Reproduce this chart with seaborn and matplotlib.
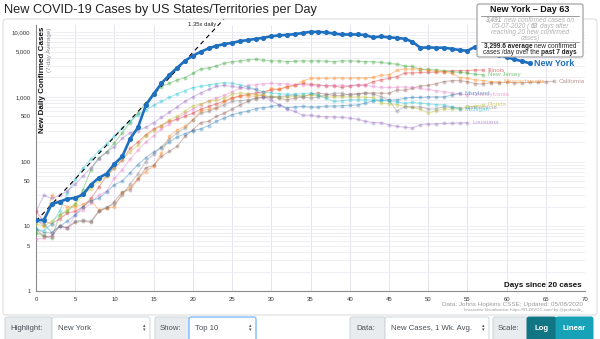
import numpy as np
import pandas as pd
import matplotlib
matplotlib.use("Agg")
import matplotlib.pyplot as plt
import seaborn as sns
from matplotlib.patches import FancyBboxPatch
from matplotlib.ticker import FixedLocator, FuncFormatter, LogLocator, NullFormatter, MultipleLocator

# 7-day average of new confirmed cases, indexed by days since the 20th case
new_york = [12.4, 12.5, 22, 24, 26.5, 27.5, 31, 44, 56, 65,
            92, 120, 225, 337, 740, 1110, 1620, 2180, 2820, 3610,
            4320, 4970, 5610, 6150, 6540, 6840, 7270, 7530, 7880, 8170,
            8670, 8890, 9080, 9310, 9700, 10100, 10100, 9890, 9550, 9200,
            9200, 9200, 8990, 8300, 8600, 8300, 8150, 7900, 7100, 5750,
            5800, 5750, 5750, 5530, 5290, 5160, 5940, 5500, 5000, 4500,
            4080, 3800, 3550, 3299.6]
illinois = [17, 12, 11, 13, 16, 17, 20, 27, 40, 60,
            80, 105, 160, 200, 260, 320, 360, 420, 450, 500,
            560, 640, 710, 780, 860, 960, 1030, 1090, 1150, 1200,
            1280, 1300, 1440, 1500, 1620, 1560, 1530, 1480, 1480, 1400,
            1480, 1530, 1530, 1720, 1830, 1940, 2060, 2330, 2350, 2380,
            2400, 2400, 2450, 2550, 2550, 2550, 2600, 2600]
new_jersey = [8, 7, 6.5, 15, 17, 22, 37, 75, 115, 140,
              195, 280, 400, 565, 810, 1150, 1440, 1620, 1830, 1980,
              2310, 2700, 2800, 3000, 3300, 3500, 3600, 3740, 3800, 3700,
              3600, 3600, 3500, 3550, 3600, 3600, 3600, 3550, 3500, 3600,
              3600, 3550, 3500, 3500, 3400, 3300, 3200, 3000, 2950, 2680,
              2650, 2620, 2550, 2450, 2400, 2320, 2230, 2200]
massachusetts = [13, 10, 30, 23, 20, 20, 22, 25, 18, 19,
                 20, 33, 40, 55, 70, 85, 136, 245, 310, 350,
                 443, 600, 640, 670, 850, 950, 1040, 1040, 1020, 1080,
                 1360, 1300, 1440, 1500, 1750, 1940, 1940, 1940, 1950, 1950,
                 1950, 1950, 1950, 2000, 2180, 2180, 2570, 2700, 2700, 2700,
                 2570, 2500, 2450, 2300, 1990, 1940, 1830, 1790, 1720, 1720]
california = [9, 7, 7, 10, 9.5, 11.5, 12, 11.5, 17, 19,
              24, 34, 37, 53, 80, 87, 120, 144, 172, 245,
              310, 400, 418, 500, 560, 650, 750, 850, 955, 1000,
              1000, 950, 900, 950, 1000, 1100, 1150, 1100, 1050, 1050,
              1100, 1120, 1150, 1150, 1140, 1140, 1270, 1270, 1350, 1470,
              1500, 1600, 1720, 1780, 1780, 1720, 1600, 1590, 1650, 1650,
              1680, 1650, 1650, 1680, 1680, 1720, 1740]
pennsylvania = [6.3, 6.5, 7, 10, 9.5, 15, 18, 23, 30, 35,
                55, 75, 110, 150, 200, 250, 320, 380, 470, 560,
                650, 760, 860, 960, 1050, 1200, 1350, 1500, 1550, 1600,
                1620, 1600, 1580, 1550, 1550, 1500, 1480, 1500, 1520, 1500,
                1480, 1500, 1500, 1450, 1400, 1400, 1400, 1420, 1400, 1350,
                1300, 1250, 1200, 1150, 1100, 1080]
maryland = [12, 11, 8, 10, 12, 15, 20, 25, 27, 34,
            44, 50, 67, 90, 115, 140, 165, 200, 240, 270,
            300, 320, 360, 420, 470, 530, 570, 600, 660, 680,
            710, 753, 680, 700, 710, 700, 700, 720, 720, 730,
            740, 750, 800, 870, 880, 900, 900, 950, 980, 980,
            1000, 1000, 1000, 1060, 1130]
connecticut = [9, 8, 8, 10, 9.5, 12, 12.5, 12, 17, 20,
               22, 30, 45, 65, 100, 130, 170, 220, 280, 330,
               440, 560, 595, 670, 753, 850, 870, 900, 940, 980,
               1000, 1010, 1040, 1070, 1000, 955, 1000, 1080, 1140, 1140,
               1070, 1100, 1140, 1100, 1010, 900, 600, 705, 700, 700,
               650, 650, 705, 690, 680]
michigan = [9, 8.5, 11, 17, 33, 53, 80, 110, 145, 190,
            250, 330, 420, 530, 630, 740, 850, 980, 1110, 1250,
            1390, 1460, 1530, 1600, 1660, 1620, 1530, 1440, 1300, 1200,
            1150, 1120, 1100, 1100, 1120, 1150, 1050, 950, 850, 870,
            900, 900, 900, 900, 900, 850, 830, 800, 820, 800,
            780, 760, 753, 700, 645]
florida = [11, 10, 12, 15, 18, 22, 30, 38, 50, 60,
           80, 110, 140, 180, 250, 300, 360, 440, 500, 600,
           725, 780, 850, 880, 950, 1100, 1150, 1120, 1080, 1050,
           1020, 1000, 1000, 1020, 1050, 1050, 1050, 1000, 1000, 1000,
           1000, 1000, 990, 980, 800, 780, 760, 720, 690, 640,
           570, 600, 650, 650, 650, 700, 720, 750]
louisiana = [17, 30, 27, 30, 35, 45, 60, 80, 110, 140,
             170, 230, 280, 300, 340, 400, 480, 580, 700, 850,
             1000, 1150, 1300, 1450, 1500, 1450, 1400, 1350, 1300, 1010,
             880, 753, 650, 595, 520, 520, 500, 490, 490, 480,
             470, 450, 420, 400, 400, 370, 350, 340, 330, 370,
             380, 380, 390, 390, 395, 400]

other_states = {
    "Illinois": illinois, "New Jersey": new_jersey, "Massachusetts": massachusetts,
    "California": california, "Pennsylvania": pennsylvania, "Maryland": maryland,
    "Florida": florida, "Connecticut": connecticut, "Michigan": michigan,
    "Louisiana": louisiana,
}
state_colors = {
    "Maryland": "#1f77b4", "Massachusetts": "#ff7f0e", "New Jersey": "#2ca02c",
    "Illinois": "#d62728", "Louisiana": "#9467bd", "California": "#8c564b",
    "Pennsylvania": "#e377c2", "Connecticut": "#7f7f7f", "Florida": "#bcbd22",
    "Michigan": "#17becf",
}
highlight_name = "New York"
highlight_color = "#1f6fbf"
highlight_day = 63
highlight_daily = 3491

y_ticks = [1, 5, 10, 50, 100, 500, 1000, 5000, 10000]

guide_start, guide_rate = 12.0, 1.35

sns.set_theme(style="white")
plt.rcParams['font.family'] = ['Liberation Sans', 'DejaVu Sans']

W, H = 600, 339
fig = plt.figure(figsize=(6.0, 3.39), dpi=100)
fig.patch.set_facecolor("white")

ax = fig.add_axes([36 / W, 1 - 291 / H, 549 / W, (291 - 25) / H])
ax.set_facecolor("white")
ax.set_yscale("log")
ax.set_xlim(0, 70)
ax.set_ylim(1, 12900)

# grid and ticks
ax.xaxis.set_major_locator(MultipleLocator(5))
ax.yaxis.set_major_locator(FixedLocator(y_ticks))
ax.yaxis.set_minor_locator(LogLocator(base=10, subs=np.arange(1, 10)))
ax.yaxis.set_major_formatter(FuncFormatter(lambda v, p: f"{int(v):,}"))
ax.yaxis.set_minor_formatter(NullFormatter())
ax.grid(True, axis="x", which="major", color="#e7e3f0", lw=0.7)
ax.grid(True, axis="y", which="both", color="#ecebf4", lw=0.6)
ax.set_axisbelow(True)
for s in ("top", "right"):
    ax.spines[s].set_visible(False)
for s in ("left", "bottom"):
    ax.spines[s].set_color("#8a8a8a")
    ax.spines[s].set_linewidth(0.8)
ax.tick_params(axis="both", which="major", labelsize=4.3, colors="#8a8a8a",
               labelcolor="#333333", length=2.5, width=0.6, pad=1.5)
ax.tick_params(axis="y", which="minor", length=2.0, width=0.4, colors="#9a9a9a")

# other states
label_offsets = {"Pennsylvania": 0.0, "Maryland": 0.0}
for name, vals in other_states.items():
    c = state_colors[name]
    d = pd.DataFrame({"day": np.arange(len(vals)), "cases": vals})
    sns.lineplot(data=d, x="day", y="cases", ax=ax, color=c, lw=0.8, alpha=0.36,
                 marker="o", markersize=2.8, markeredgewidth=0, errorbar=None, zorder=3)
    ax.text(len(vals) - 1 + 0.6, vals[-1], name, color=c, alpha=0.6, fontsize=4.5,
            va="center", ha="left", zorder=4)

# growth guide
g_end = np.log(16000 / guide_start) / np.log(guide_rate)
ax.plot([0, g_end], [guide_start, guide_start * guide_rate ** g_end], ls=(0, (4, 3.5)),
        color="black", lw=0.8, clip_on=False, zorder=5)

# highlighted state
d = pd.DataFrame({"day": np.arange(len(new_york)), "cases": new_york})
sns.lineplot(data=d, x="day", y="cases", ax=ax, color=highlight_color, lw=1.9,
             marker="o", markersize=3.7, markeredgewidth=0, errorbar=None, zorder=6)
ax.text(len(new_york) - 1 + 0.5, new_york[-1], highlight_name, color=highlight_color,
        fontsize=6.5, fontweight="bold", va="center", ha="left", zorder=7)
ax.set_xlabel("")
ax.set_ylabel("")

# overlay in pixel coordinates for page furniture
ov = fig.add_axes([0, 0, 1, 1])
ov.set_xlim(0, W)
ov.set_ylim(H, 0)
ov.axis("off")
renderer = fig.canvas.get_renderer()

ov.add_patch(FancyBboxPatch((3, 19), 594, 296, boxstyle="round,pad=0,rounding_size=3",
                            fc="none", ec="#dedede", lw=0.8))
ov.text(4, 10, "New COVID-19 Cases by US States/Territories per Day", fontsize=9.2,
        color="#222222", va="center", ha="left")

ov.text(42, 27, "New Daily Confirmed Cases", rotation=90, fontsize=5.8, fontweight="bold",
        color="#111111", ha="center", va="top")
ov.text(50, 27, "(7-day Average)", rotation=90, fontsize=4.5, color="#888888",
        ha="center", va="top")
ov.text(202, 24.5, f"{guide_rate}x daily", fontsize=4.2, color="#222222",
        ha="center", va="center")
ov.text(582, 285.5, "Days since 20 cases", fontsize=5.8, fontweight="bold",
        color="#111111", ha="right", va="center")
ov.text(583, 304.5, "Data: Johns Hopkins CSSE; Updated: 05/08/2020", fontsize=4.6,
        color="#9a9a9a", ha="right", va="center")
ov.text(583, 310.5, "Interactive Visualization: https://91-DIVOC.com/ by @profwade_",
        fontsize=3.1, color="#9a9a9a", ha="right", va="center")


def rich_line(xc, y, pieces, size, color, style="normal"):
    """Draw text pieces (text, bold) side by side, centred on xc."""
    def width(s, weight):
        t = ov.text(0, 0, s, fontsize=size, fontweight=weight, style=style)
        w = t.get_window_extent(renderer=renderer).width
        t.remove()
        return w
    space = width("x x", "normal") - width("xx", "normal")
    items = []
    for s, bold in pieces:
        wt = "bold" if bold else "normal"
        items.append((s, wt, width(s, wt)))
    total = sum(w for _, _, w in items) + space * (len(items) - 1)
    x = xc - total / 2
    for s, wt, w in items:
        ov.text(x, y, s, fontsize=size, fontweight=wt, style=style, color=color,
                ha="left", va="center", zorder=12)
        x += w + space


# tooltip
ov.add_patch(FancyBboxPatch((477, 4), 106, 53, boxstyle="round,pad=0,rounding_size=2",
                            fc="white", ec="#9a9a9a", lw=0.8, zorder=10))
ov.text(530, 10, f"{highlight_name} \u2013 Day {highlight_day}", fontsize=6.5,
        fontweight="bold", color="#111111", ha="center", va="center", zorder=11)
ov.plot([481, 579], [15.5, 15.5], color="#8a8a8a", lw=0.6, zorder=11)
rich_line(530, 20.0, [(f"{highlight_daily:,}", True), ("new confirmed cases on", False)],
          4.7, "#b0b0b0", "italic")
rich_line(530, 26.2, [("05-07-2020 (", False), (f"{highlight_day}", True),
                      ("days after", False)], 4.7, "#b0b0b0", "italic")
rich_line(530, 32.4, [("reaching 20 new confirmed", False)], 4.7, "#b0b0b0", "italic")
rich_line(530, 38.2, [("cases)", False)], 4.7, "#b0b0b0", "italic")
ov.plot([481, 579], [42, 42], color="#8a8a8a", lw=0.6, zorder=11)
rich_line(530, 46.5, [(f"{new_york[-1]:,} average", True), ("new confirmed", False)],
          4.7, "#222222")
rich_line(530, 52.5, [("cases /day over the", False), ("past 7 days", True)],
          4.7, "#222222")


# control bar
def ctl_box(x0, x1, fc, ec, lw=0.7):
    ov.add_patch(FancyBboxPatch((x0, 317), x1 - x0, 30, boxstyle="round,pad=0,rounding_size=2",
                                fc=fc, ec=ec, lw=lw))


def arrows(x):
    ov.text(x, 326, "\u25b4", fontsize=3.6, color="#555555", ha="center", va="center",
            family=["DejaVu Sans"])
    ov.text(x, 330, "\u25be", fontsize=3.6, color="#555555", ha="center", va="center",
            family=["DejaVu Sans"])


label_fc, label_ec, txt_c = "#e9ecef", "#ced4da", "#495057"
ctl_box(5, 52, label_fc, label_ec)
ov.text(10, 328.5, "Highlight:", fontsize=5.6, color=txt_c, va="center")
ctl_box(52, 150, "white", label_ec)
ov.text(58, 328.5, "New York", fontsize=5.6, color=txt_c, va="center")
arrows(144)
ctl_box(155, 189, label_fc, label_ec)
ov.text(160, 328.5, "Show:", fontsize=5.6, color=txt_c, va="center")
ctl_box(189, 256, "white", "#80bdff", lw=1.0)
ov.text(195, 328.5, "Top 10", fontsize=5.6, color=txt_c, va="center")
arrows(250)
ctl_box(350, 385, label_fc, label_ec)
ov.text(356, 328.5, "Data:", fontsize=5.6, color=txt_c, va="center")
ctl_box(385, 489, "white", label_ec)
ov.text(391, 328.5, "New Cases, 1 Wk. Avg.", fontsize=5.6, color=txt_c, va="center")
arrows(483)
ctl_box(493, 527, label_fc, label_ec)
ov.text(498, 328.5, "Scale:", fontsize=5.6, color=txt_c, va="center")
ctl_box(527, 556, "#127584", "#127584")
ov.text(541.5, 328.5, "Log", fontsize=5.6, fontweight="bold", color="white",
        ha="center", va="center")
ctl_box(556, 593, "#17a2b8", "#17a2b8")
ov.text(574.5, 328.5, "Linear", fontsize=5.6, fontweight="bold", color="white",
        ha="center", va="center")

fig.savefig("out.png", dpi=100)
